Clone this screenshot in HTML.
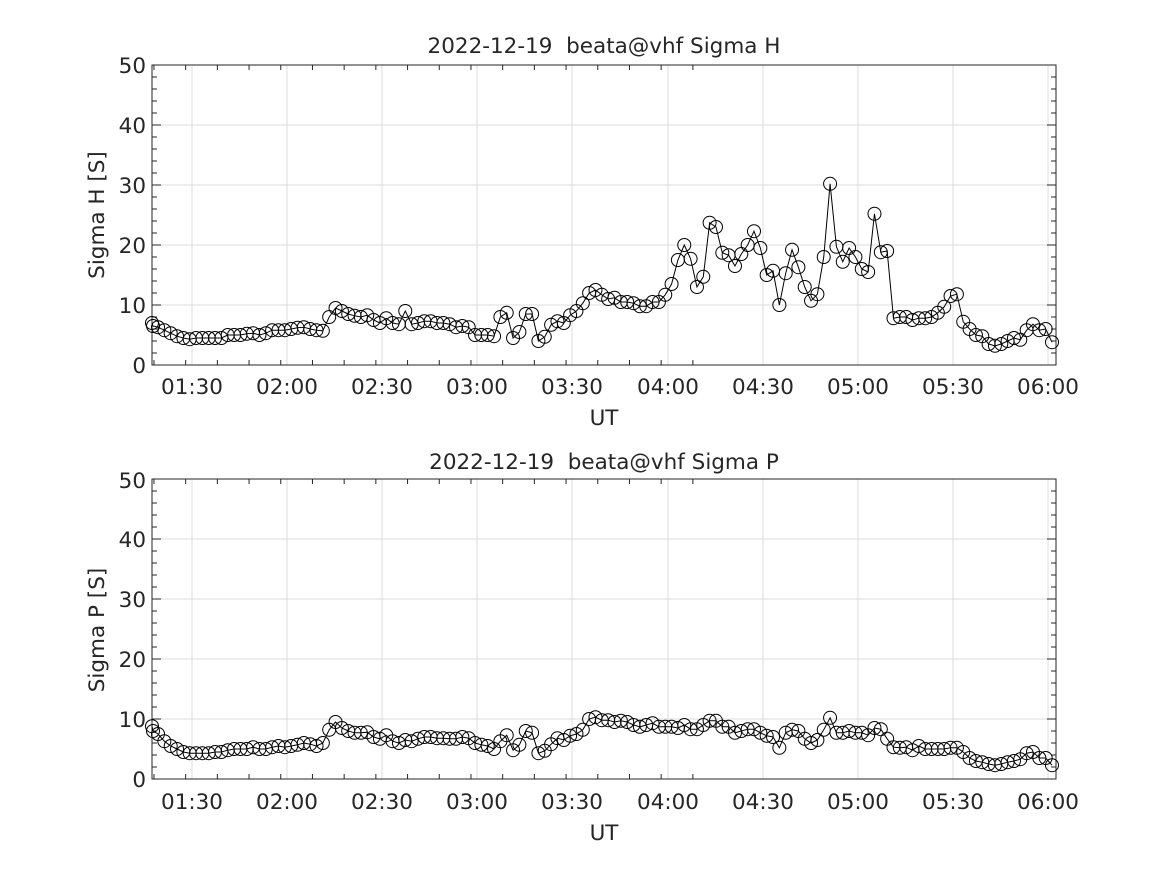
<!DOCTYPE html>
<html><head><meta charset="utf-8"><style>
html,body{margin:0;padding:0;background:#fff}
svg text{font-family:"DejaVu Sans","Liberation Sans",sans-serif;fill:#262626;white-space:pre}
</style></head><body>
<svg id="s" width="1167" height="875" xmlns="http://www.w3.org/2000/svg">
<rect width="1167" height="875" fill="#fff"/>
<g id="g"></g>
<text x="604" y="53" font-size="21.5" text-anchor="middle" fill="#000" xml:space="preserve">2022-12-19  beata@vhf Sigma H</text>
<text x="604" y="469" font-size="21.5" text-anchor="middle" fill="#000" xml:space="preserve">2022-12-19  beata@vhf Sigma P</text>
<g font-size="21.5" text-anchor="end">
<text x="146" y="373">0</text><text x="146" y="313">10</text><text x="146" y="253">20</text><text x="146" y="193">30</text><text x="146" y="133">40</text><text x="146" y="73">50</text>
<text x="146" y="787">0</text><text x="146" y="727">10</text><text x="146" y="667">20</text><text x="146" y="607">30</text><text x="146" y="547">40</text><text x="146" y="488">50</text>
</g>
<g font-size="21.5" text-anchor="middle">
<text x="192" y="394">01:30</text><text x="287" y="394">02:00</text><text x="382" y="394">02:30</text><text x="477" y="394">03:00</text><text x="572" y="394">03:30</text><text x="668" y="394">04:00</text><text x="763" y="394">04:30</text><text x="858" y="394">05:00</text><text x="953" y="394">05:30</text><text x="1048" y="394">06:00</text>
<text x="192" y="809">01:30</text><text x="287" y="809">02:00</text><text x="382" y="809">02:30</text><text x="477" y="809">03:00</text><text x="572" y="809">03:30</text><text x="668" y="809">04:00</text><text x="763" y="809">04:30</text><text x="858" y="809">05:00</text><text x="953" y="809">05:30</text><text x="1048" y="809">06:00</text>
<text x="604" y="425">UT</text><text x="604" y="840">UT</text>
<text transform="translate(104,215) rotate(-90)">Sigma H [S]</text>
<text transform="translate(104,630) rotate(-90)">Sigma P [S]</text>
</g>
</svg>
<script>
var H=[7.0,6.5,6.3,5.8,5.3,4.8,4.5,4.3,4.5,4.5,4.5,4.5,4.5,5.0,5.0,5.0,5.2,5.3,5.0,5.3,5.8,5.8,5.8,6.0,6.2,6.3,6.0,5.8,5.7,8.0,9.5,9.0,8.5,8.2,8.0,8.3,7.5,7.0,7.8,7.0,6.8,9.0,6.8,7.0,7.3,7.3,7.0,7.0,6.8,6.3,6.5,6.3,5.0,5.0,5.0,4.8,8.0,8.7,4.5,5.5,8.5,8.5,4.0,4.7,6.7,7.3,7.0,8.3,9.0,10.3,12.0,12.5,11.7,11.0,11.2,10.5,10.5,10.3,9.8,9.8,10.5,10.5,11.7,13.5,17.5,20.0,17.7,13.0,14.7,23.7,23.0,18.7,18.3,16.5,18.5,20.0,22.3,19.5,15.0,15.7,10.0,15.3,19.2,16.3,13.0,10.7,11.8,18.0,30.2,19.7,17.2,19.5,18.0,16.0,15.5,25.2,18.8,19.0,7.8,8.0,8.0,7.5,7.8,7.8,8.0,8.7,9.7,11.5,11.8,7.2,6.0,5.0,4.8,3.5,3.2,3.5,4.0,4.5,4.2,5.8,6.8,5.8,6.0,3.8];
var P=[8.8,8.0,7.5,6.3,5.5,5.0,4.5,4.3,4.3,4.3,4.3,4.5,4.5,4.8,5.0,5.0,5.0,5.3,5.0,5.0,5.3,5.5,5.3,5.5,5.7,6.0,5.8,5.5,6.0,8.2,9.5,8.5,8.0,7.7,7.7,7.8,7.0,6.7,7.3,6.3,6.0,6.5,6.3,6.7,7.0,7.0,6.8,6.8,6.7,6.7,7.0,6.8,6.0,5.7,5.5,5.0,6.3,7.3,4.8,5.7,8.0,7.7,4.3,4.7,5.8,6.8,6.5,7.2,7.5,8.2,10.0,10.3,9.8,9.8,9.5,9.7,9.5,9.0,8.7,9.0,9.3,8.7,8.7,8.7,8.5,9.0,8.3,8.3,9.0,9.7,9.7,8.7,8.7,7.7,8.0,8.3,8.3,7.7,7.2,7.0,5.2,7.7,8.2,8.0,6.7,6.0,6.5,8.2,10.2,7.7,7.7,8.0,7.7,7.7,7.3,8.5,8.3,6.7,5.3,5.2,5.3,4.8,5.5,5.0,5.0,5.0,5.0,5.2,5.2,4.5,3.5,3.0,2.8,2.5,2.3,2.5,2.8,3.0,3.3,4.3,4.5,3.5,3.5,2.3];
var NS="http://www.w3.org/2000/svg",g=document.getElementById('g');
function el(t,a){var e=document.createElementNS(NS,t);for(var k in a)e.setAttribute(k,a[k]);g.appendChild(e);return e;}
function panel(top,data){
 var L=152,R=1056,B=top+300,sc=6;
 for(var v=10;v<50;v+=10)el('line',{x1:L,x2:R,y1:B-v*sc,y2:B-v*sc,stroke:'#dcdcdc','stroke-width':1});
 var xs=[192,287,382,477,572,668,763,858,953,1048];
 xs.forEach(function(x){el('line',{x1:x,x2:x,y1:top,y2:B,stroke:'#dcdcdc','stroke-width':1});});
 var d='';
 for(var v=0;v<=50;v+=2){var y=B-v*sc,l=(v%10==0)?9:5;d+='M'+L+' '+y+'h'+l+'M'+R+' '+y+'h-'+l;}
 var pm=95.1/30;
 for(var m=-12;m<=165;m+=10){var x=192+m*pm;if(x<L||x>R)continue;var l=(m%30==0)?9:5;d+='M'+x+' '+B+'v-'+l+'M'+x+' '+top+'v'+l;}
 el('path',{d:d,stroke:'#262626','stroke-width':1,fill:'none'});
 el('rect',{x:L,y:top,width:R-L,height:300,fill:'none',stroke:'#262626','stroke-width':1});
 var n=data.length,pts=[];
 for(var i=0;i<n;i++){var x=i==0?152:(i==1?153:158+(i-2)*(1052-158)/(n-3));pts.push([x,B-data[i]*sc]);}
 el('polyline',{points:pts.map(function(p){return p.join(',')}).join(' '),fill:'none',stroke:'#000','stroke-width':1});
 pts.forEach(function(p){el('circle',{cx:p[0],cy:p[1],r:6.5,fill:'none',stroke:'#000','stroke-width':1});});
}
panel(65,H);panel(479,P);
</script>
</body></html>
